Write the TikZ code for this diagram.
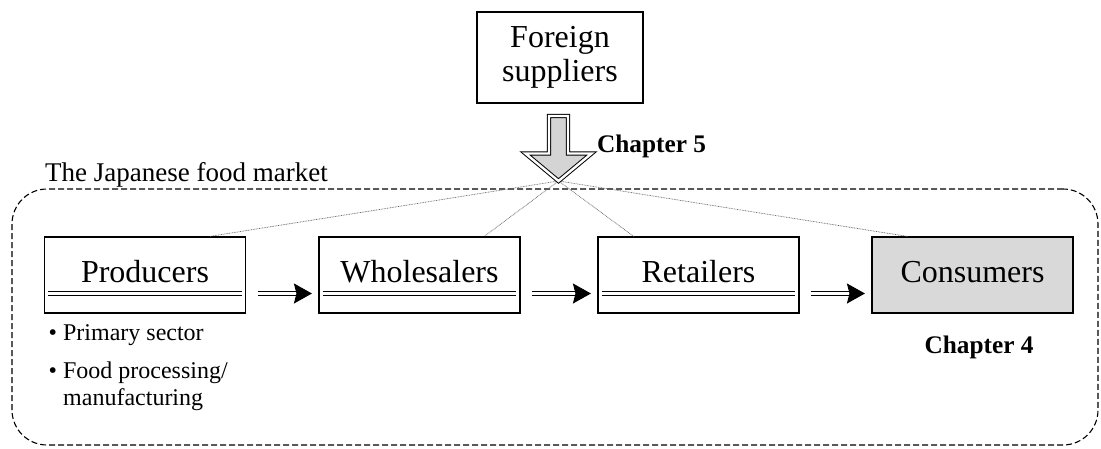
\documentclass[tikz,border=0pt]{standalone}
\usepackage{fontspec}
\setmainfont{Liberation Serif}
\usetikzlibrary{arrows.meta,calc}
\definecolor{boxgray}{HTML}{D9D9D9}
\definecolor{arrowgray}{HTML}{D4D4D4}

\begin{document}
\begin{tikzpicture}[x=1pt,y=-1pt,
  stagebox/.style={draw,line width=1.1pt,minimum width=201pt,minimum height=76pt,
    inner sep=0pt,font=\fontsize{32}{34}\selectfont,text height=21pt,text depth=7pt},
  label/.style={inner sep=0pt,anchor=base west},
  bullettext/.style={label,font=\fontsize{24}{27}\selectfont},
  chapter/.style={inner sep=0pt,anchor=base,font=\bfseries\fontsize{25.3}{28}\selectfont},
  underline/.style={line width=1pt,double,double distance=2.3pt},
  flow/.style={line width=1pt,double,double distance=2.3pt,shorten <=11.5pt,shorten >=6.5pt,
    -{Stealth[length=18pt,width=20pt,inset=2.5pt]}},
  link/.style={line width=0.7pt,black!60,dash pattern=on 0.8pt off 0.8pt},
  bigarrow/.style={fill=arrowgray,line width=1pt,double,double distance=2.4pt,line join=miter}]
\useasboundingbox (0,0) rectangle (1101,448);

% market frame and its title
\node[draw,line width=1.1pt,dash pattern=on 6pt off 3pt,rounded corners=35pt,
  minimum width=1086pt,minimum height=256pt,inner sep=0pt] (market) at (555,317) {};
\node[label,font=\fontsize{27}{30}\selectfont] (mtitle) at (45,181) {The Japanese food market};

% supplier outside the market
\node[draw,line width=1.1pt,minimum width=166pt,minimum height=91pt,inner sep=0pt,
  align=center,font=\fontsize{32}{34}\selectfont] (foreign) at (560,57.5) {Foreign\\suppliers};

% stages of the supply chain
\node[stagebox] (prod) at (145,275) {Producers};
\node[stagebox] (whol) at (419.5,275) {Wholesalers};
\node[stagebox] (ret) at (698.5,275) {Retailers};
\node[stagebox,fill=boxgray] (cons) at (972.5,275) {Consumers};

% double rules under the labels
\foreach \b in {prod,whol,ret}
  \draw[underline] ([xshift=4.5pt,yshift=-18.5pt]\b.west) -- ([xshift=-4.5pt,yshift=-18.5pt]\b.east);

% flows between stages
\draw[flow] ([yshift=-18.5pt]prod.east) -- ([yshift=-18.5pt]whol.west);
\draw[flow] ([yshift=-18.5pt]whol.east) -- ([yshift=-18.5pt]ret.west);
\draw[flow] ([yshift=-18.5pt]ret.east) -- ([yshift=-18.5pt]cons.west);

% imports fan out to every stage
\coordinate (tip) at (558.5,181);
\draw[link] (tip) -- ($(prod.north west)!0.82!(prod.north east)$);
\draw[link] (tip) -- ($(whol.north west)!0.82!(whol.north east)$);
\draw[link] (tip) -- ($(ret.north west)!0.18!(ret.north east)$);
\draw[link] (tip) -- ($(cons.north west)!0.18!(cons.north east)$);

% hollow import arrow
\draw[bigarrow] (549,116) -- (568,116) -- (568,153.5) -- (591.5,153.5) -- (tip)
  -- (525.5,153.5) -- (549,153.5) -- cycle;

% chapter labels
\node[chapter] (ch5) at (651.5,152) {Chapter 5};
\node[chapter] (ch4) at (979,353) {Chapter 4};

% producer categories
\node[bullettext] (b1) at (48.5,340) {\textbullet\ Primary sector};
\node[bullettext] (b2) at (48.5,378) {\textbullet\ Food processing/};
\node[bullettext] (b3) at (63,405) {manufacturing};
\end{tikzpicture}
\end{document}
